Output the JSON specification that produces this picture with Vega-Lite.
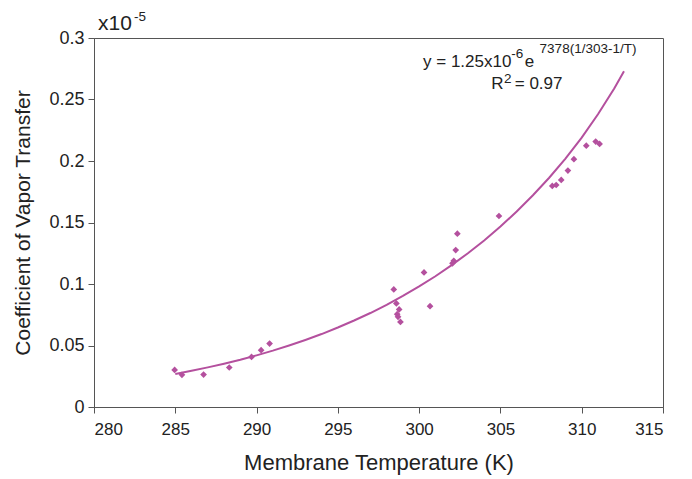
{
  "$schema": "https://vega.github.io/schema/vega-lite/v6.json",
  "width": 569,
  "height": 369,
  "autosize": "none",
  "padding": {"left": 94, "top": 38, "right": 29, "bottom": 72},
  "background": "white",
  "config": {
    "view": {"stroke": "#555555", "strokeWidth": 1},
    "font": "Liberation Sans",
    "axis": {"grid": false, "domainColor": "#555555", "tickColor": "#555555", "labelColor": "#222222", "titleColor": "#222222", "labelFont": "Liberation Sans", "titleFont": "Liberation Sans", "labelFontSize": 17, "titleFontSize": 21, "titleFontWeight": "normal", "tickSize": 6}
  },
  "datasets": {
    "curve": [
      {"T": 285, "v": 0.0269}, {"T": 286, "v": 0.0294}, {"T": 287, "v": 0.0322}, {"T": 288, "v": 0.0352},
      {"T": 289, "v": 0.0384}, {"T": 290, "v": 0.0420}, {"T": 291, "v": 0.0458}, {"T": 292, "v": 0.0500},
      {"T": 293, "v": 0.0545}, {"T": 294, "v": 0.0593}, {"T": 295, "v": 0.0646}, {"T": 296, "v": 0.0703},
      {"T": 297, "v": 0.0764}, {"T": 298, "v": 0.0831}, {"T": 299, "v": 0.0903}, {"T": 300, "v": 0.0980},
      {"T": 301, "v": 0.1063}, {"T": 302, "v": 0.1153}, {"T": 303, "v": 0.1250}, {"T": 304, "v": 0.1354},
      {"T": 305, "v": 0.1467}, {"T": 306, "v": 0.1590}, {"T": 307, "v": 0.1722}, {"T": 308, "v": 0.1864},
      {"T": 309, "v": 0.2020}, {"T": 310, "v": 0.2190}, {"T": 311, "v": 0.2380}, {"T": 312, "v": 0.2590},
      {"T": 312.6, "v": 0.2730}
    ],
    "obs": [
      {"T": 284.96, "v": 0.0301}, {"T": 285.41, "v": 0.0262}, {"T": 286.74, "v": 0.0264}, {"T": 288.32, "v": 0.0321},
      {"T": 289.69, "v": 0.0407}, {"T": 290.28, "v": 0.0462}, {"T": 290.8, "v": 0.0516},
      {"T": 298.44, "v": 0.0956}, {"T": 298.6, "v": 0.0842}, {"T": 298.77, "v": 0.0793}, {"T": 298.65, "v": 0.0755},
      {"T": 298.7, "v": 0.0733}, {"T": 298.85, "v": 0.0692}, {"T": 300.3, "v": 0.1094}, {"T": 300.67, "v": 0.082},
      {"T": 302.05, "v": 0.1168}, {"T": 302.13, "v": 0.1189}, {"T": 302.25, "v": 0.1276}, {"T": 302.35, "v": 0.1409},
      {"T": 304.91, "v": 0.1553}, {"T": 308.19, "v": 0.1797}, {"T": 308.43, "v": 0.1805}, {"T": 308.74, "v": 0.1846},
      {"T": 309.15, "v": 0.1922}, {"T": 309.52, "v": 0.2015}, {"T": 310.28, "v": 0.2125}, {"T": 310.86, "v": 0.2158},
      {"T": 311.1, "v": 0.2139}
    ],
    "unitText": [
      {"T": 280.25, "v": 0.3068, "label": "x10"}
    ],
    "bigText": [
      {"T": 300.24, "v": 0.2764, "label": "y = 1.25x10"},
      {"T": 306.49, "v": 0.2764, "label": "e"},
      {"T": 304.44, "v": 0.2585, "label": "R"},
      {"T": 305.88, "v": 0.2585, "label": "= 0.97"}
    ],
    "smallText": [
      {"T": 282.46, "v": 0.3141, "label": "-5"},
      {"T": 305.67, "v": 0.2837, "label": "-6"},
      {"T": 307.41, "v": 0.2876, "label": "7378(1/303-1/T)"},
      {"T": 305.22, "v": 0.2634, "label": "2"}
    ]
  },
  "layer": [
    {
      "data": {"name": "curve"},
      "mark": {"type": "line", "color": "#b4509e", "strokeWidth": 2},
      "encoding": {
        "x": {"field": "T", "type": "quantitative", "scale": {"domain": [280, 315], "nice": false, "zero": false},
              "axis": {"title": "Membrane Temperature (K)", "values": [280, 285, 290, 295, 300, 305, 310, 315], "format": "d", "labelPadding": 8, "titlePadding": 15, "titleFontSize": 22}},
        "y": {"field": "v", "type": "quantitative", "scale": {"domain": [0, 0.3], "nice": false},
              "axis": {"title": "Coefficient of Vapor Transfer", "values": [0, 0.05, 0.1, 0.15, 0.2, 0.25, 0.3], "format": ".2~f", "labelPadding": 4, "labelFontSize": 18, "titlePadding": 15}}
      }
    },
    {
      "data": {"name": "obs"},
      "mark": {"type": "point", "shape": "diamond", "filled": true, "color": "#b4509e", "size": 45, "opacity": 1},
      "encoding": {
        "x": {"field": "T", "type": "quantitative"},
        "y": {"field": "v", "type": "quantitative"}
      }
    },
    {
      "data": {"name": "unitText"},
      "mark": {"type": "text", "align": "left", "baseline": "alphabetic", "fontSize": 21, "color": "#222222", "font": "Liberation Sans"},
      "encoding": {
        "x": {"field": "T", "type": "quantitative"},
        "y": {"field": "v", "type": "quantitative"},
        "text": {"field": "label"}
      }
    },
    {
      "data": {"name": "bigText"},
      "mark": {"type": "text", "align": "left", "baseline": "alphabetic", "fontSize": 17, "color": "#222222", "font": "Liberation Sans"},
      "encoding": {
        "x": {"field": "T", "type": "quantitative"},
        "y": {"field": "v", "type": "quantitative"},
        "text": {"field": "label"}
      }
    },
    {
      "data": {"name": "smallText"},
      "mark": {"type": "text", "align": "left", "baseline": "alphabetic", "fontSize": 13.5, "color": "#222222", "font": "Liberation Sans"},
      "encoding": {
        "x": {"field": "T", "type": "quantitative"},
        "y": {"field": "v", "type": "quantitative"},
        "text": {"field": "label"}
      }
    }
  ]
}
